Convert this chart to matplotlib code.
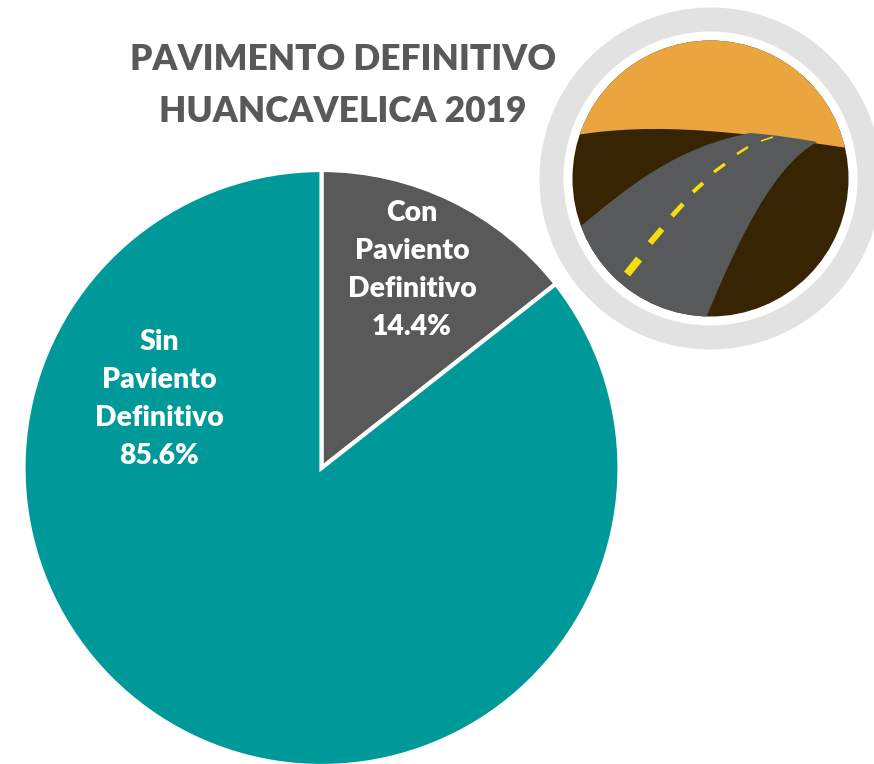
import matplotlib.pyplot as plt
from matplotlib.patches import Circle, PathPatch
from matplotlib.path import Path

plt.rcParams['font.family'] = ['Lato', 'DejaVu Sans']

labels = ['Con\nPaviento\nDefinitivo\n14.4%', 'Sin\nPaviento\nDefinitivo\n85.6%']
values = [14.4, 85.6]
colors = ['#595959', '#009999']
title_lines = ['PAVIMENTO DEFINITIVO', 'HUANCAVELICA 2019']

W, H = 874, 764
fig = plt.figure(figsize=(W / 100, H / 100), dpi=100)
ax = fig.add_axes([0, 0, 1, 1])

# y axis gets flipped below, so -90 is the top of the picture
ax.pie(values, colors=colors, startangle=-90, center=(321.5, 468), radius=298,
       frame=False, wedgeprops={'edgecolor': 'white', 'linewidth': 3})
ax.set_aspect('auto')
ax.set_xlim(0, W)
ax.set_ylim(H, 0)
ax.axis('off')

ax.text(412, 270, labels[0], color='white', fontsize=20.4, fontweight=800, ha='center', va='center', linespacing=1.57)
ax.text(159, 399, labels[1], color='white', fontsize=20.4, fontweight=800, ha='center', va='center', linespacing=1.57)

ax.text(343, 60, title_lines[0], color='#595959', fontsize=25.4, fontweight=800, ha='center', va='center')
ax.text(343, 112, title_lines[1], color='#595959', fontsize=25.4, fontweight=800, ha='center', va='center')

# road icon
cx, cy = 710.5, 178.5
ax.add_patch(Circle((cx, cy), 171, color='#e2e2e2', lw=0))
ax.add_patch(Circle((cx, cy), 147, color='white', lw=0))
clip = Circle((cx, cy), 138, color='#362402', lw=0)
ax.add_patch(clip)

sky = Path([(560, 138), (640, 122), (720, 128), (860, 150), (860, 20), (560, 20), (560, 138)],
           [Path.MOVETO, Path.CURVE4, Path.CURVE4, Path.CURVE4, Path.LINETO, Path.LINETO, Path.CLOSEPOLY])
p = PathPatch(sky, fc='#eba53f', lw=0)
ax.add_patch(p)
p.set_clip_path(clip)

road = Path([(575, 231), (630, 185), (675, 148), (750, 133),
             (775, 135), (795, 138), (817, 142),
             (775, 165), (740, 235), (706, 318),
             (560, 330), (575, 231)],
            [Path.MOVETO, Path.CURVE4, Path.CURVE4, Path.CURVE4,
             Path.CURVE4, Path.CURVE4, Path.CURVE4,
             Path.CURVE4, Path.CURVE4, Path.CURVE4,
             Path.LINETO, Path.CLOSEPOLY])
p = PathPatch(road, fc='#58595b', lw=0)
ax.add_patch(p)
p.set_clip_path(clip)

dash_x = [(627, 639), (650, 662), (672, 683), (693, 703), (714, 725), (737, 748), (761, 773)]
dash_y = [(274, 259), (243, 229), (216, 204), (192, 183), (172, 164), (154, 147), (141, 137)]
dash_w = [5.6, 4.4, 3.4, 2.8, 2.3, 1.8, 1.1]
for xs, ys, lw in zip(dash_x, dash_y, dash_w):
    ax.plot(xs, ys, color='#f7dd0e', lw=lw, solid_capstyle='butt')

fig.savefig('out.png', dpi=100)
